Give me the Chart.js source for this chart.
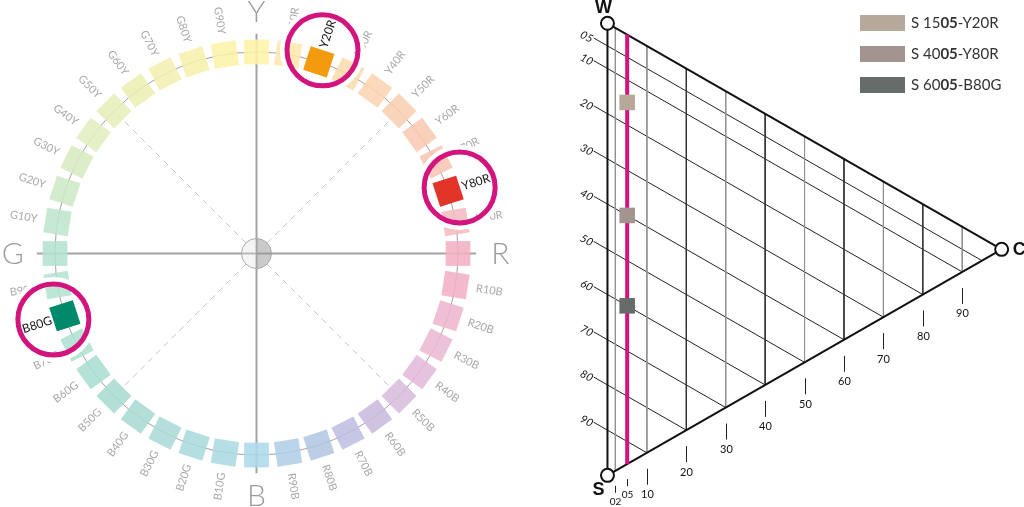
<!DOCTYPE html>
<html>
<head>
<meta charset="utf-8">
<script src="https://cdn.jsdelivr.net/npm/chart.js@4/dist/chart.umd.min.js"></script>
<style>
html, body { margin: 0; padding: 0; background: #fff; }
canvas { display: block; }
</style>
</head>
<body>
<canvas id="ncs" width="1024" height="507"></canvas>
<script>
// cercle des teintes NCS, sens horaire depuis Y
const teintes = ['Y','Y10R','Y20R','Y30R','Y40R','Y50R','Y60R','Y70R','Y80R','Y90R',
                 'R','R10B','R20B','R30B','R40B','R50B','R60B','R70B','R80B','R90B',
                 'B','B10G','B20G','B30G','B40G','B50G','B60G','B70G','B80G','B90G',
                 'G','G10Y','G20Y','G30Y','G40Y','G50Y','G60Y','G70Y','G80Y','G90Y']
const couleursTeintes = ['#fff4a8','#fee8ac','#fde2ac','#fcdcae','#fbd4b0','#facfb2','#f9cab4','#f8c5b6','#f7c0ba','#f5bbc0',
                         '#f2b0c2','#f1b1c6','#efb6cd','#eab8d3','#e3badb','#d8bcdd','#cabbdd','#bebfe0','#b3c6e2','#b0cee6',
                         '#acd9ea','#abd9e3','#abd9dc','#abdad7','#aadad3','#a9dbd1','#abded2','#afe0d3','#b2e1d3','#b4e2d2',
                         '#b4e2d2','#bfe5cd','#cde9c7','#d8ebc1','#e0eebd','#e6eeb8','#ecefb3','#f2efb0','#f7f0ad','#fcf3a8']
const teintesChoisies = ['Y20R','Y80R','B80G']
const couleursChoisies = ['#f39a0e','#e2352a','#00896b']

// triangle NCS : echantillons a chromaticite 05
const echantillons = ['S 1505-Y20R','S 4005-Y80R','S 6005-B80G']
const noirceurs = [15, 40, 60]
const chromaticiteEchantillons = 5
const couleursEchantillons = ['#b6a999','#a2958f','#656c6a']
const graduationsNoir = [5, 10, 20, 30, 40, 50, 60, 70, 80, 90]
const libellesNoir = ['05','10','20','30','40','50','60','70','80','90']
const graduationsChroma = [2, 5, 10, 20, 30, 40, 50, 60, 70, 80, 90]
const libellesChroma = ['02','05','10','20','30','40','50','60','70','80','90']

const MAGENTA = '#d4147e'

// angle de la teinte i (en radians, 0 = R a droite)
const angleTeinte = i => (90 - i * 360 / teintes.length) * Math.PI / 180
// point du triangle : c = chromaticite, s = noirceur
const pt = (c, s) => ({x: c, y: s + c / 2})

function ligne(points, couleur, epaisseur, axes, ordre, tirets) {
  return {
    type: 'scatter', showLine: true, data: points,
    borderColor: couleur, borderWidth: epaisseur, borderDash: tirets || [],
    pointRadius: 0, xAxisID: axes[0], yAxisID: axes[1], order: ordre, clip: false
  }
}

let datasets = []

// axes du cercle
const longueurAxe = 1.09
datasets.push(ligne([{x: 0, y: longueurAxe}, {x: 0, y: -longueurAxe}], '#a3a3a3', 2, ['cx','cy'], 10))
datasets.push(ligne([{x: -longueurAxe, y: 0}, {x: longueurAxe, y: 0}], '#a3a3a3', 2, ['cx','cy'], 10))
// diagonales en pointilles (Y50R, R50B, B50G, G50Y)
for (let i = 5; i < teintes.length; i += 10) {
  const a = angleTeinte(i)
  datasets.push(ligne([{x: 0.075 * Math.cos(a), y: 0.075 * Math.sin(a)},
                       {x: 0.97 * Math.cos(a), y: 0.97 * Math.sin(a)}], '#c4c4c4', 1, ['cx','cy'], 10, [6, 5]))
}

// carres des teintes
datasets.push({
  type: 'scatter',
  data: teintes.map((t, i) => ({x: Math.cos(angleTeinte(i)), y: Math.sin(angleTeinte(i))})),
  pointStyle: 'rect',
  pointRadius: 17.5,
  rotation: teintes.map((t, i) => i * 360 / teintes.length - 90),
  backgroundColor: couleursTeintes.map(c => c + 'e0'),
  borderWidth: 0,
  xAxisID: 'cx', yAxisID: 'cy', order: 8, clip: false
})
// carres choisis
const idxChoisis = teintesChoisies.map(t => teintes.indexOf(t))
datasets.push({
  type: 'scatter',
  data: idxChoisis.map(i => ({x: Math.cos(angleTeinte(i)), y: Math.sin(angleTeinte(i))})),
  pointStyle: 'rect',
  pointRadius: 17.5,
  rotation: idxChoisis.map(i => i * 360 / teintes.length - 90),
  backgroundColor: couleursChoisies,
  borderWidth: 0,
  xAxisID: 'cx', yAxisID: 'cy', order: 7, clip: false
})
// anneaux magenta
const centresAnneaux = idxChoisis.map(i => ({x: 1.06 * Math.cos(angleTeinte(i)), y: 1.06 * Math.sin(angleTeinte(i))}))
datasets.push({
  type: 'scatter', data: centresAnneaux, pointStyle: 'circle', pointRadius: 40,
  borderWidth: 5, borderColor: '#ffffff', backgroundColor: 'rgba(0,0,0,0)',
  xAxisID: 'cx', yAxisID: 'cy', order: 2, clip: false
})
datasets.push({
  type: 'scatter', data: centresAnneaux, pointStyle: 'circle', pointRadius: 35.5,
  borderWidth: 5, borderColor: MAGENTA, backgroundColor: 'rgba(0,0,0,0)',
  xAxisID: 'cx', yAxisID: 'cy', order: 1, clip: false
})

// triangle : lignes de chromaticite constante
graduationsChroma.forEach(c => {
  if (c === chromaticiteEchantillons) return
  const gris = (c / 10) % 2 === 1 || c === 2
  datasets.push(ligne([pt(c, 0), pt(c, 100 - c)], gris ? '#909090' : '#333333', 1, ['tx','ty'], 10))
})
// lignes de noirceur constante
graduationsNoir.forEach(s => {
  datasets.push(ligne([pt(-3.5, s), pt(100 - s, s)], '#222222', 1, ['tx','ty'], 10))
})
// cotes du triangle
datasets.push(ligne([pt(0, 0), pt(0, 100)], '#111111', 2, ['tx','ty'], 9))
datasets.push(ligne([pt(0, 0), pt(100, 0)], '#111111', 2, ['tx','ty'], 9))
datasets.push(ligne([pt(0, 100), pt(100, 0)], '#111111', 2, ['tx','ty'], 9))
// ligne magenta chromaticite 05
datasets.push(ligne([pt(chromaticiteEchantillons, 0), pt(chromaticiteEchantillons, 100 - chromaticiteEchantillons)], MAGENTA, 4, ['tx','ty'], 8))
// echantillons
datasets.push({
  type: 'scatter',
  data: noirceurs.map(s => pt(chromaticiteEchantillons, s)),
  pointStyle: 'rect', pointRadius: 11, borderWidth: 0,
  backgroundColor: couleursEchantillons,
  xAxisID: 'tx', yAxisID: 'ty', order: 7, clip: false
})
// sommets W, S, C
datasets.push({
  type: 'scatter',
  data: [pt(0, 0), pt(0, 100), pt(100, 0)],
  pointStyle: 'circle', pointRadius: 6.5, borderWidth: 2,
  borderColor: '#111111', backgroundColor: '#ffffff',
  xAxisID: 'tx', yAxisID: 'ty', order: 6, clip: false
})

function texteTeinte(ctx, chart, t, i, rayon) {
  const {cx, cy} = chart.scales
  const a = angleTeinte(i)
  ctx.save()
  ctx.translate(cx.getPixelForValue(rayon * Math.cos(a)), cy.getPixelForValue(rayon * Math.sin(a)))
  ctx.rotate(Math.cos(a) >= 0 ? -a : Math.PI - a)
  ctx.fillText(t, 0, 0)
  ctx.restore()
}

const dessin = {
  id: 'dessin',
  beforeDatasetsDraw(chart) {
    const {ctx, scales: {cx, cy}} = chart
    const x0 = cx.getPixelForValue(0), y0 = cy.getPixelForValue(0)
    const r = cx.getPixelForValue(1) - x0
    ctx.save()
    ctx.strokeStyle = '#a0a0a0'
    ctx.lineWidth = 1
    ctx.beginPath()
    ctx.arc(x0, y0, r, 0, 2 * Math.PI)
    ctx.stroke()
    // noms des teintes
    ctx.font = '11px Lato, "Open Sans", sans-serif'
    ctx.fillStyle = '#a8a8a8'
    ctx.textAlign = 'center'
    ctx.textBaseline = 'middle'
    teintes.forEach((t, i) => {
      if (t.length === 1 || teintesChoisies.includes(t)) return
      texteTeinte(ctx, chart, t, i, 1.17)
    })
    ctx.restore()
  },
  afterDatasetsDraw(chart) {
    const {ctx, scales: {cx, cy, tx, ty}} = chart
    const x0 = cx.getPixelForValue(0), y0 = cy.getPixelForValue(0)
    ctx.save()
    // petit disque central
    ctx.fillStyle = 'rgba(225,225,225,0.35)'
    ctx.beginPath(); ctx.arc(x0, y0, 15, Math.PI / 2, 3 * Math.PI / 2); ctx.fill()
    ctx.fillStyle = 'rgba(150,150,150,0.5)'
    ctx.beginPath(); ctx.arc(x0, y0, 15, -Math.PI / 2, Math.PI / 2); ctx.fill()
    ctx.strokeStyle = '#aaaaaa'; ctx.lineWidth = 1
    ctx.beginPath(); ctx.arc(x0, y0, 15, 0, 2 * Math.PI); ctx.stroke()

    // noms des teintes choisies
    ctx.font = '12px Lato, "Open Sans", sans-serif'
    ctx.fillStyle = '#111111'
    ctx.textAlign = 'center'
    ctx.textBaseline = 'middle'
    teintesChoisies.forEach(t => texteTeinte(ctx, chart, t, teintes.indexOf(t), 1.145))

    // grandes lettres Y R B G (centrees sur la hauteur des capitales)
    ctx.font = '300 30px Lato, "Open Sans", sans-serif'
    ctx.fillStyle = '#9c9c9c'
    ctx.textBaseline = 'alphabetic'
    const demiCap = 10.5
    ctx.fillText('Y', cx.getPixelForValue(0), cy.getPixelForValue(1.203) + demiCap)
    ctx.fillText('R', cx.getPixelForValue(1.21), cy.getPixelForValue(0) + demiCap)
    ctx.fillText('B', cx.getPixelForValue(0), cy.getPixelForValue(-1.2) + demiCap)
    ctx.fillText('G', cx.getPixelForValue(-1.21), cy.getPixelForValue(0) + demiCap)
    ctx.textBaseline = 'middle'

    // sommets du triangle
    ctx.font = 'bold 18px "Liberation Sans", Arial, sans-serif'
    ctx.fillStyle = '#111111'
    let p = pt(0, 0)
    ctx.fillText('W', tx.getPixelForValue(p.x) - 4, ty.getPixelForValue(p.y) - 15)
    p = pt(0, 100)
    ctx.fillText('S', tx.getPixelForValue(p.x) - 9, ty.getPixelForValue(p.y) + 15)
    p = pt(100, 0)
    ctx.textAlign = 'left'
    ctx.fillText('C', tx.getPixelForValue(p.x) + 11, ty.getPixelForValue(p.y) + 1)

    // graduations de noirceur (gauche)
    ctx.font = 'italic 11px Lato, "Open Sans", sans-serif'
    ctx.textAlign = 'center'
    graduationsNoir.forEach((s, k) => {
      const q = pt(-5.3, s)
      ctx.save()
      ctx.translate(tx.getPixelForValue(q.x), ty.getPixelForValue(q.y) + 3)
      ctx.rotate(28 * Math.PI / 180)
      ctx.fillText(libellesNoir[k], 0, 0)
      ctx.restore()
    })

    // graduations de chromaticite (bas)
    ctx.strokeStyle = '#222222'
    ctx.lineWidth = 1
    graduationsChroma.forEach((c, k) => {
      const q = pt(c, 100 - c)
      const bx = Math.round(tx.getPixelForValue(q.x)) + 0.5
      const by = ty.getPixelForValue(q.y)
      const petit = c < 10
      ctx.beginPath()
      ctx.moveTo(bx, by + (petit ? 15 : 16))
      ctx.lineTo(bx, by + (petit ? 22 : 32))
      ctx.stroke()
      ctx.font = (petit ? '10px' : '11px') + ' Lato, "Open Sans", sans-serif'
      ctx.fillText(libellesChroma[k], bx, by + (petit ? 31 : 42))
    })

    // legende
    ctx.textAlign = 'left'
    echantillons.forEach((e, k) => {
      const yc = 23 + k * 31
      ctx.fillStyle = couleursEchantillons[k]
      ctx.fillRect(860, yc - 8, 45, 16)
      const m = e.match(/^(S \d\d)(\d\d)(-.*)$/)
      let x = 911
      ctx.fillStyle = '#333333'
      ctx.font = '15px Lato, "Open Sans", sans-serif'
      ctx.fillText(m[1], x, yc)
      x += ctx.measureText(m[1]).width
      ctx.font = 'bold 15px Lato, "Open Sans", sans-serif'
      ctx.fillText(m[2], x, yc)
      x += ctx.measureText(m[2]).width
      ctx.font = '15px Lato, "Open Sans", sans-serif'
      ctx.fillText(m[3], x, yc)
    })
    ctx.restore()
  }
}

new Chart(document.getElementById('ncs'), {
  type: 'scatter',
  data: {datasets: datasets},
  options: {
    responsive: false,
    animation: false,
    events: [],
    layout: {padding: 0, autoPadding: false},
    plugins: {legend: {display: false}, tooltip: {enabled: false}},
    scales: {
      x: {display: false},
      y: {display: false},
      cx: {type: 'linear', axis: 'x', position: 'bottom', display: false, min: -1.273, max: 3.809},
      cy: {type: 'linear', axis: 'y', position: 'left', display: false, min: -1.258, max: 1.258},
      tx: {type: 'linear', axis: 'x', position: 'bottom', display: false, min: -154.11, max: 105.67},
      ty: {type: 'linear', axis: 'y', position: 'left', display: false, min: -5.155, max: 107.0, reverse: true}
    }
  },
  plugins: [dessin]
})
</script>
</body>
</html>
